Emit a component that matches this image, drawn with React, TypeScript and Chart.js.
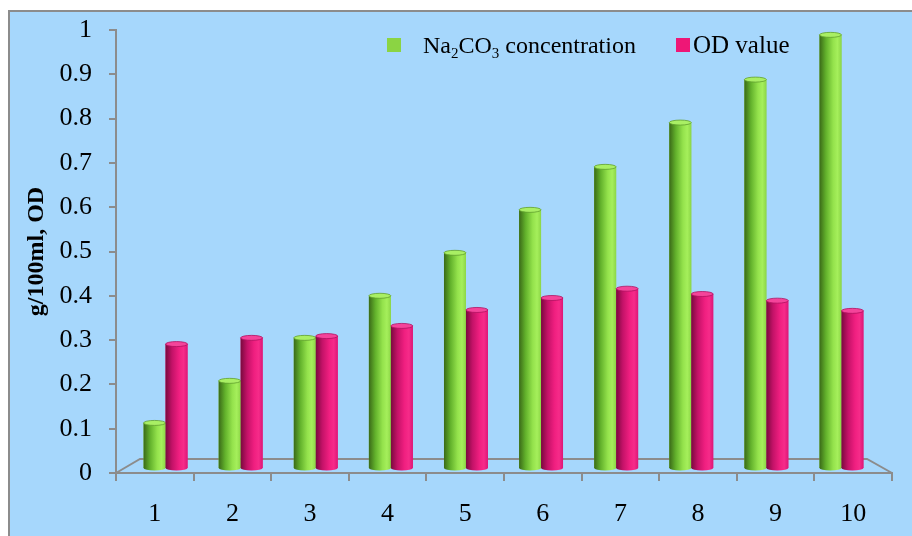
import React, { useEffect, useRef } from 'react';
import { Chart, registerables } from 'chart.js';

Chart.register(...registerables);

// ---- data ----
const categories = ['1', '2', '3', '4', '5', '6', '7', '8', '9', '10'];
const na2co3Values = [0.104, 0.199, 0.296, 0.391, 0.488, 0.585, 0.682, 0.782, 0.879, 0.98];
const odValues = [0.282, 0.296, 0.3, 0.323, 0.359, 0.386, 0.407, 0.395, 0.38, 0.357];
const yTickLabels = ['0', '0.1', '0.2', '0.3', '0.4', '0.5', '0.6', '0.7', '0.8', '0.9', '1'];
const seriesLabels = ['Na₂CO₃ concentration', 'OD value'];
const na2co3LegendParts: [string, boolean][] = [
  ['Na', false], ['2', true], ['CO', false], ['3', true], [' concentration', false],
];
const yTitle = 'g/100ml, OD';

const FONT = "'Liberation Serif', 'Times New Roman', serif";
const AXIS = '#8c8c8c';
const BG = '#a6d7fc';

const GREEN_STOPS: [number, string][] = [
  [0, '#3a6a18'], [0.3, '#63b22c'], [0.62, '#94e24c'], [0.82, '#a5ef5b'], [1, '#8cd647'],
];
const PINK_STOPS: [number, string][] = [
  [0, '#7a0a3e'], [0.3, '#c41268'], [0.62, '#f01f80'], [0.82, '#f62b89'], [1, '#dd1677'],
];
const CAPS = ['#a9ef64', '#f4449a'];

const threeD = {
  id: 'threeD',
  beforeDatasetsDraw(chart: any) {
    const { ctx, chartArea: ca } = chart;
    const dx = 24;
    const dy = 14;
    ctx.save();
    ctx.strokeStyle = AXIS;
    ctx.lineWidth = 2;
    ctx.beginPath();
    ctx.moveTo(ca.left, ca.bottom);
    ctx.lineTo(ca.left + dx, ca.bottom - dy);
    ctx.lineTo(ca.right - dx - 1, ca.bottom - dy);
    ctx.lineTo(ca.right, ca.bottom);
    ctx.stroke();
    ctx.restore();
    // bars sit at mid-depth of the floor
    const S = (ca.width - 25) / ca.width;
    const a = ca.left + 12 - S * ca.left;
    ctx.save();
    ctx.translate(a, -4);
    ctx.scale(S, 1);
  },
  afterDatasetsDraw(chart: any) {
    const { ctx } = chart;
    chart.data.datasets.forEach((_ds: any, di: number) => {
      const meta = chart.getDatasetMeta(di);
      const stops = di === 0 ? GREEN_STOPS : PINK_STOPS;
      meta.data.forEach((el: any) => {
        const { x, y, base, width } = el.getProps(['x', 'y', 'base', 'width'], true);
        const l = x - width / 2;
        const r = x + width / 2;
        const g = ctx.createLinearGradient(l, 0, r, 0);
        stops.forEach(([o, c]) => g.addColorStop(o, c));
        const ry = 2.5;
        ctx.fillStyle = g;
        ctx.beginPath();
        ctx.ellipse(x, base, width / 2, ry, 0, 0, Math.PI * 2);
        ctx.fill();
        ctx.fillRect(l, y, width, base - y);
        ctx.beginPath();
        ctx.ellipse(x, y, width / 2, ry, 0, 0, Math.PI * 2);
        ctx.fillStyle = CAPS[di];
        ctx.fill();
        ctx.lineWidth = 0.8;
        ctx.strokeStyle = di === 0 ? '#5f9e2e' : '#b01060';
        ctx.stroke();
      });
    });
    ctx.restore();
  },
  afterDraw(chart: any) {
    const { ctx } = chart;
    ctx.save();
    // legend
    const baseY = 41;
    ctx.fillStyle = '#8bd443';
    ctx.fillRect(377, 26, 14, 14);
    ctx.fillStyle = '#ee1776';
    ctx.fillRect(666, 26, 14, 14);
    ctx.fillStyle = '#000';
    ctx.textBaseline = 'alphabetic';
    ctx.textAlign = 'left';
    let xPos = 413;
    na2co3LegendParts.forEach(([t, sub]) => {
      ctx.font = sub ? `15px ${FONT}` : `24px ${FONT}`;
      ctx.fillText(t, xPos, sub ? baseY + 5 : baseY);
      xPos += ctx.measureText(t).width;
    });
    ctx.font = `25px ${FONT}`;
    ctx.fillText(seriesLabels[1], 683, baseY);
    ctx.restore();
  },
};

export default function App() {
  const ref = useRef<HTMLCanvasElement>(null);
  useEffect(() => {
    if (!ref.current) return;
    const chart = new Chart(ref.current, {
      type: 'bar',
      data: {
        labels: categories,
        datasets: [
          { label: seriesLabels[0], data: na2co3Values, backgroundColor: '#8bd443', borderWidth: 0 },
          { label: seriesLabels[1], data: odValues, backgroundColor: '#ee1776', borderWidth: 0 },
        ],
      },
      options: {
        animation: false,
        responsive: false,
        devicePixelRatio: 1,
        layout: { autoPadding: false, padding: { top: 18, right: 20, left: 0, bottom: 0 } },
        datasets: { bar: { categoryPercentage: 0.585, barPercentage: 1 } },
        plugins: { legend: { display: false }, tooltip: { enabled: false } },
        scales: {
          x: {
            grid: { display: true, offset: true, drawOnChartArea: false, drawTicks: true, tickLength: 8, color: AXIS, lineWidth: 2 },
            border: { display: true, color: AXIS, width: 2 },
            ticks: { color: '#000', font: { family: FONT, size: 26 }, padding: 18, maxRotation: 0 },
            afterFit: (s: any) => {
              s.height = 63;
              s.paddingLeft = 0;
              s.paddingRight = 0;
            },
          },
          y: {
            min: 0,
            max: 1,
            grid: { display: true, drawOnChartArea: false, drawTicks: true, tickLength: 7, color: AXIS, lineWidth: 2 },
            border: { display: true, color: AXIS, width: 2 },
            ticks: {
              stepSize: 0.1,
              color: '#000',
              font: { family: FONT, size: 26 },
              padding: 17,
              callback: (_v: any, i: number) => yTickLabels[i],
            },
            title: { display: true, text: yTitle, color: '#000', font: { family: FONT, size: 24, weight: 'bold' }, padding: { top: 12, bottom: 0 } },
            afterFit: (s: any) => {
              s.width = 106;
              s.paddingTop = 0;
              s.paddingBottom = 0;
            },
          },
        },
      },
      plugins: [threeD],
    });
    return () => chart.destroy();
  }, []);
  return (
    <div
      style={{
        position: 'absolute',
        left: 8,
        top: 10,
        width: 902,
        height: 526,
        borderLeft: `2px solid ${AXIS}`,
        borderTop: `2px solid ${AXIS}`,
        background: BG,
        overflow: 'hidden',
      }}
    >
      <canvas ref={ref} width={902} height={524} style={{ display: 'block', width: 902, height: 524 }} />
    </div>
  );
}
